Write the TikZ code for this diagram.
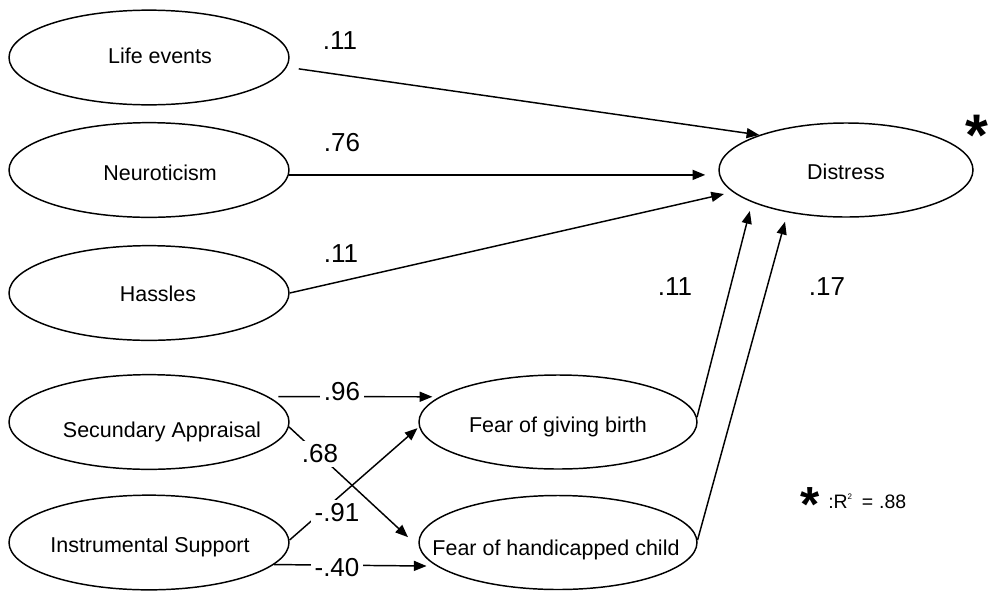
\documentclass[tikz,border=0pt]{standalone}
\usepackage{fontspec}
\setmainfont{Liberation Sans}
\usetikzlibrary{shapes.geometric,arrows.meta}

\begin{document}
\begin{tikzpicture}[x=0.75pt,y=-0.75pt,
  var/.style={draw, ellipse, line width=1.1pt, inner sep=0pt,
              minimum width=210pt, minimum height=71pt},
  fearvar/.style={var, minimum width=208.5pt, minimum height=70.5pt},
  outvar/.style={var, minimum width=190.5pt, minimum height=70.5pt},
  vname/.style={anchor=base, inner sep=0pt, font=\fontsize{16.1pt}{19pt}\selectfont},
  coef/.style={fill=white, inner sep=3pt, font=\fontsize{19.5pt}{23pt}\selectfont},
  effect/.style={line width=1.1pt, -{Triangle[length=9.5pt,width=7.5pt]}},
  starmark/.style={anchor=north, inner sep=0pt, font=\bfseries\fontsize{44pt}{44pt}\selectfont}
]
\useasboundingbox (0,0) rectangle (992,590);

% latent variables
\node[var] (life)  at (149,57.5) {};
\node[var] (neuro) at (149,170) {};
\node[var] (hass)  at (149,293) {};
\node[var] (sa)    at (149,422) {};
\node[var] (is)    at (149,542.5) {};
\node[fearvar] (fgb) at (558,422) {};
\node[fearvar] (fhc) at (558,542.5) {};
\node[outvar] (dist) at (846,170) {};

% variable names
\node[vname] (lifeT)  at (160,63)  {Life events};
\node[vname] (neuroT) at (160,180) {Neuroticism};
\node[vname] (hassT)  at (158,301) {Hassles};
\node[vname] (saT)    at (162,437) {Secundary Appraisal};
\node[vname] (isT)    at (150,552) {Instrumental Support};
\node[vname] (fgbT)   at (558,432) {Fear of giving birth};
\node[vname] (fhcT)   at (556,555) {Fear of handicapped child};
\node[vname] (distT)  at (846,179) {Distress};

% structural paths
\draw[effect, shorten <=9pt] (life.-4) -- (dist.158);
\draw[effect, shorten >=9.75pt] (neuro.-2) -- (dist.west |- neuro.-2);
\draw[effect, shorten >=6.75pt] (hass.east) -- (dist.191);
\draw[effect, shorten >=6.75pt] (fgb.2) -- (dist.199);
\draw[effect, shorten >=7.25pt] (fhc.1) -- (dist.216);
\draw[effect, shorten <=7.5pt, shorten >=5.25pt] (sa.12) -- (fgb.168);
\draw[effect, shorten >=11.25pt] (sa.-2) -- (fhc.182);
\draw[effect, shorten >=1.5pt] (is.1) -- (fgb.182);
\draw[effect, shorten >=7.5pt] (is.-10) -- (fhc.191);

% path coefficients
\node[coef] (c1) at (340,40.5) {.11};
\node[coef] (c2) at (342,142.5) {.76};
\node[coef] (c3) at (341,254) {.11};
\node[coef] (c4) at (675,287) {.11};
\node[coef] (c5) at (827,287) {.17};
\node[coef] (c6) at (342,392) {.96};
\node[coef] (c7) at (320,454) {.68};
\node[coef] (c8) at (337,513) {-.91};
\node[coef] (c9) at (337,568) {-.40};

% explained variance marker and legend
\node[starmark] (star) at (977,115) {*};
\node[starmark, font=\bfseries\fontsize{37pt}{37pt}\selectfont] (lstar) at (810.5,487) {*};
\node[anchor=base west, inner sep=0pt, font=\fontsize{14.6pt}{17pt}\selectfont] (r2) at (828,508)
  {:R\raisebox{0.42em}{\fontsize{6pt}{6pt}\selectfont 2}\hspace{0.5em}=\hspace{0.3em}.88};
\end{tikzpicture}
\end{document}
